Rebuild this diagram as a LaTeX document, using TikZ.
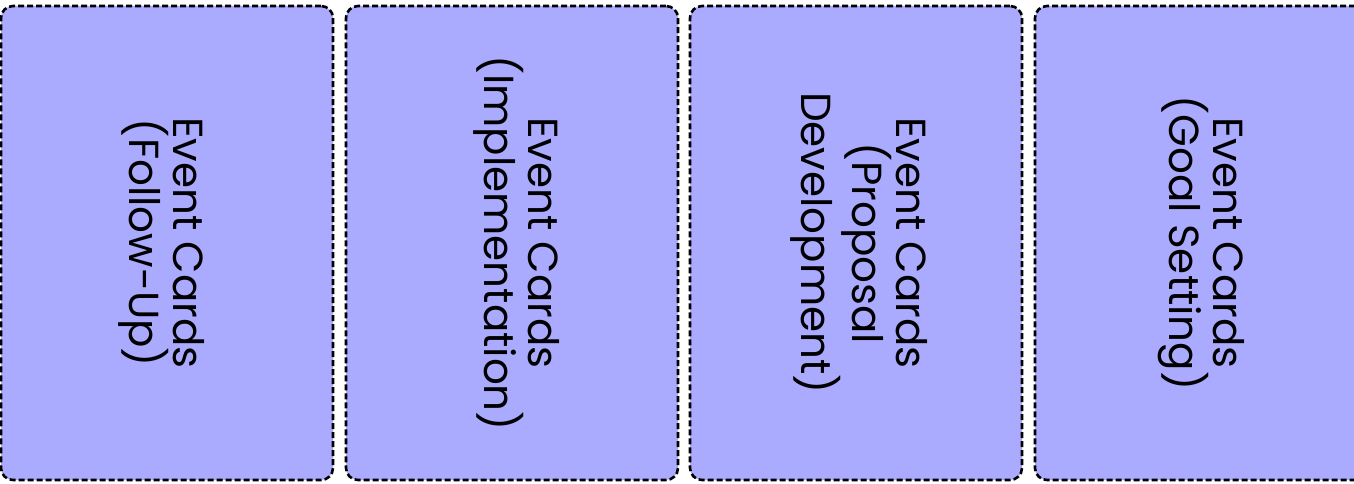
\documentclass[tikz,border=0pt]{standalone}
\usepackage{fontspec}
\setmainfont{Poppins}
\definecolor{cardfill}{HTML}{AAAAFF}
\begin{document}
\begin{tikzpicture}[x=1pt,y=-1pt,
  card/.style={draw=black, line width=2.6pt, dash pattern=on 6pt off 3pt, fill=cardfill, rounded corners=12pt, minimum width=332pt, minimum height=474pt, inner sep=0pt},
  lbl/.style={rotate=-90, align=center, font=\fontsize{42}{44}\selectfont, inner sep=0pt}]
\useasboundingbox (0,0) rectangle (1354,484);
\node[card] (c1) at (167,243) {};
\node[card] (c2) at (512,243) {};
\node[card] (c3) at (856,243) {};
\node[card] (c4) at (1201,243) {};
\node[lbl] (t1) at ([xshift=-5pt]c1.center) {Event Cards\\(Follow-Up)};
\node[lbl] (t2) at ([xshift=5pt]c2.center) {Event Cards\\(Implementation)};
\node[lbl] (t3) at ([xshift=3pt]c3.center) {Event Cards\\(Proposal\\Development)};
\node[lbl] (t4) at (c4.center) {Event Cards\\(Goal Setting)};
\end{tikzpicture}
\end{document}
